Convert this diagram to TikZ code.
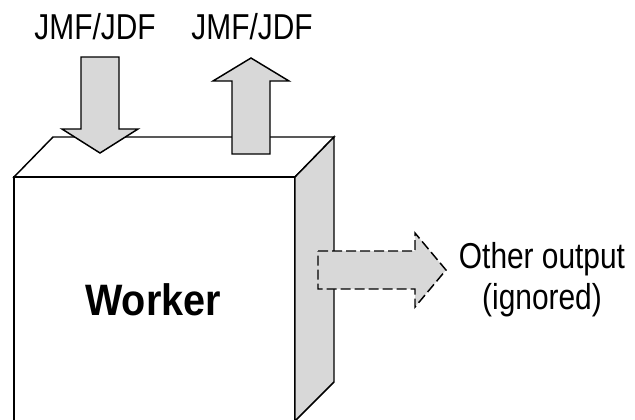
\documentclass[tikz,border=0pt]{standalone}
\usepackage{fontspec}
\setmainfont{Liberation Sans}
\newfontfamily\narrowsans[FakeStretch=0.83]{Liberation Sans}
\newfontfamily\workersans[FakeStretch=0.9]{Liberation Sans}
\definecolor{facegray}{RGB}{216,216,216}
\begin{document}
\begin{tikzpicture}[x=0.75pt,y=-0.75pt,
        face/.style={draw=black,line width=1.1pt,line join=miter},
        blockarrow/.style={draw=black,fill=facegray,line width=1.1pt},
        txt/.style={font=\narrowsans\fontsize{27}{31}\selectfont,inner sep=0pt}]
        \useasboundingbox (0,0) rectangle (635,419);
        \clip (0,0) rectangle (635,419);

        \coordinate (ftl) at (14,177);
        \coordinate (ftr) at (295,177);
        \coordinate (btl) at (53,137);
        \coordinate (btr) at (334,137);
        \coordinate (fbl) at (14,421);
        \coordinate (fbr) at (295,421);
        \coordinate (bbr) at (334,382);

        % box
        \draw[face,fill=white] (ftl) -- (btl) -- (btr) -- (ftr) -- cycle;
        \draw[face,fill=white] (ftl) rectangle (fbr);
        \draw[face,fill=facegray] (ftr) -- (btr) -- (bbr) -- (fbr) -- cycle;

        % block arrows
        \draw[blockarrow] (81,57) -- (119,57) -- (119,129) -- (138,129) -- (100,153) -- (62,129) -- (81,129) -- cycle;
        \draw[blockarrow] (232,154) -- (270,154) -- (270,81) -- (289,81) -- (251,58) -- (213,81) -- (232,81) -- cycle;
        \draw[blockarrow,dash pattern=on 7.5pt off 3pt] (318,251) -- (415,251) -- (415,233) -- (446,270) -- (415,307) -- (415,289) -- (318,289) -- cycle;

        \node[txt,anchor=base] (in)  at (95,39) {JMF/JDF};
        \node[txt,anchor=base] (out) at (252,39) {JMF/JDF};
        \node[font=\workersans\fontsize{33}{38}\selectfont\bfseries,inner sep=0pt,anchor=base] (w) at (153,315) {Worker};
        \node[txt,align=center] (o) at (542,280) {Other output\\(ignored)};
    \end{tikzpicture}
\end{document}
